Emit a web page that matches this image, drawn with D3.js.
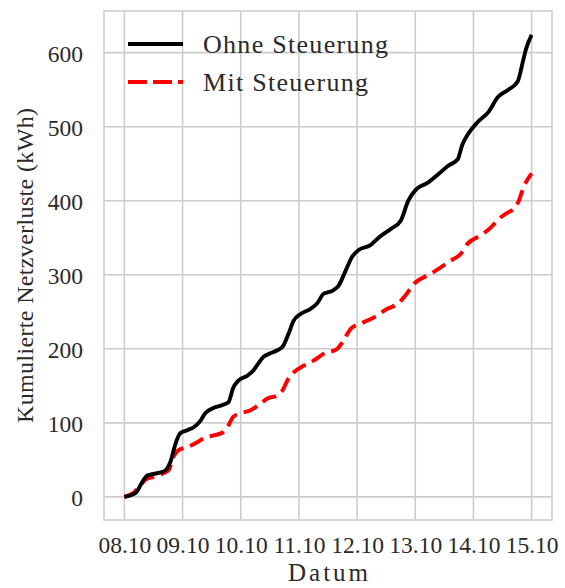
<!DOCTYPE html>
<html><head><meta charset="utf-8">
<script src="https://cdn.jsdelivr.net/npm/d3@7"></script>
<style>body{margin:0;background:#fff}text{font-family:"Liberation Serif","DejaVu Serif",serif}</style>
</head><body>
<svg id="c" width="565" height="588"></svg>
<script>
const xTickLabels = ["08.10","09.10","10.10","11.10","12.10","13.10","14.10","15.10"];
const yTicks = [0,100,200,300,400,500,600];
const seriesNames = ["Ohne Steuerung","Mit Steuerung"];
// days since 08.10 00:00
const ohneTage = [0,0.19,0.33,0.40,0.57,0.71,0.79,0.88,0.96,1.08,1.19,1.31,1.39,1.53,1.69,1.79,1.87,1.96,2.12,2.22,2.30,2.39,2.51,2.63,2.73,2.82,2.91,3.03,3.20,3.32,3.42,3.49,3.59,3.68,3.80,3.92,4.02,4.23,4.37,4.58,4.75,4.88,5.01,5.21,5.40,5.56,5.73,5.81,5.90,6.07,6.26,6.42,6.60,6.76,6.85,6.90,7.0];
const ohneWerte = [0,5,23,29,32,36,47,72,86,90,94,103,113,120,124,128,147,157,164,171,180,189,194,198,204,220,238,247,254,262,274,276,279,285,305,325,333,340,350,362,373,400,415,424,436,447,456,476,489,506,520,540,550,561,588,604,624];
const mitTage = [0,0.15,0.28,0.36,0.50,0.67,0.76,0.84,0.93,1.08,1.26,1.36,1.53,1.69,1.77,1.87,2.00,2.17,2.34,2.46,2.63,2.72,2.80,2.91,3.08,3.25,3.42,3.66,3.75,3.89,4.06,4.28,4.52,4.70,4.83,4.97,5.26,5.44,5.61,5.78,5.90,6.12,6.30,6.43,6.59,6.69,6.78,6.86,7.0];
const mitWerte = [0,5,16,23,27,32,36,54,63,67,74,79,83,87,94,108,113,117,126,133,137,144,157,168,177,184,193,200,209,227,234,242,254,261,272,287,301,310,319,328,342,353,364,375,384,389,400,418,437];

const svg = d3.select("#c");
const L=104,R=552,T=11,B=520;
const x = d3.scaleLinear().domain([-0.35,7.35]).range([L,R]);
const y = d3.scaleLinear().domain([-31.25,656.25]).range([B,T]);
const grid="#cccccc", txt="#2a2a2a";
const tickFs=23.5;

// grid
svg.append("g").selectAll("line").data(d3.range(xTickLabels.length)).join("line")
 .attr("x1",d=>x(d)).attr("x2",d=>x(d)).attr("y1",T).attr("y2",B).attr("stroke",grid).attr("stroke-width",1.6);
svg.append("g").selectAll("line").data(yTicks).join("line")
 .attr("y1",d=>y(d)).attr("y2",d=>y(d)).attr("x1",L).attr("x2",R).attr("stroke",grid).attr("stroke-width",1.6);
svg.append("rect").attr("x",L).attr("y",T).attr("width",R-L).attr("height",B-T).attr("fill","none").attr("stroke",grid).attr("stroke-width",1.6);

// axes labels via d3 axes
const xAxis = d3.axisBottom(x).tickValues(d3.range(xTickLabels.length)).tickFormat(i=>xTickLabels[i]).tickSize(0).tickPadding(16);
const gx = svg.append("g").attr("transform",`translate(0,${B})`).call(xAxis);
gx.select(".domain").remove();
gx.selectAll("text").attr("font-size",tickFs).attr("fill",txt).attr("font-family","Liberation Serif");
const yAxis = d3.axisLeft(y).tickValues(yTicks).tickSize(0).tickPadding(21);
const gy = svg.append("g").attr("transform",`translate(${L},0)`).call(yAxis);
gy.select(".domain").remove();
gy.selectAll("text").attr("font-size",tickFs).attr("fill",txt).attr("font-family","Liberation Serif").attr("dy","0.38em");

svg.append("text").attr("x",(L+R)/2).attr("y",581).attr("text-anchor","middle").attr("font-size",25).attr("fill",txt)
 .attr("textLength",80).attr("lengthAdjust","spacing").text("Datum");
svg.append("text").attr("transform",`translate(33,${(T+B)/2}) rotate(-90)`).attr("text-anchor","middle").attr("font-size",24).attr("fill",txt)
 .attr("textLength",315).attr("lengthAdjust","spacing").text("Kumulierte Netzverluste (kWh)");

const line = d3.line().x(d=>x(d[0])).y(d=>y(d[1])).curve(d3.curveMonotoneX);
svg.append("path").datum(mitTage.map((t,i)=>[t,mitWerte[i]])).attr("d",line).attr("fill","none").attr("stroke","#ff0000").attr("stroke-width",4).attr("stroke-dasharray","15,7");
svg.append("path").datum(ohneTage.map((t,i)=>[t,ohneWerte[i]])).attr("d",line).attr("fill","none").attr("stroke","#000").attr("stroke-width",3.9).attr("stroke-linejoin","round");

// legend
const lg = svg.append("g");
const ly=[44,82];
const lw=[185,165];
lg.append("line").attr("x1",128).attr("x2",183).attr("y1",ly[0]).attr("y2",ly[0]).attr("stroke","#000").attr("stroke-width",4);
lg.append("line").attr("x1",128).attr("x2",183).attr("y1",ly[1]).attr("y2",ly[1]).attr("stroke","#ff0000").attr("stroke-width",4).attr("stroke-dasharray","19,6");
seriesNames.forEach((n,i)=>lg.append("text").attr("x",203).attr("y",ly[i]+9).attr("font-size",26).attr("fill",txt)
 .attr("textLength",lw[i]).attr("lengthAdjust","spacing").text(n));
</script>
</body></html>
